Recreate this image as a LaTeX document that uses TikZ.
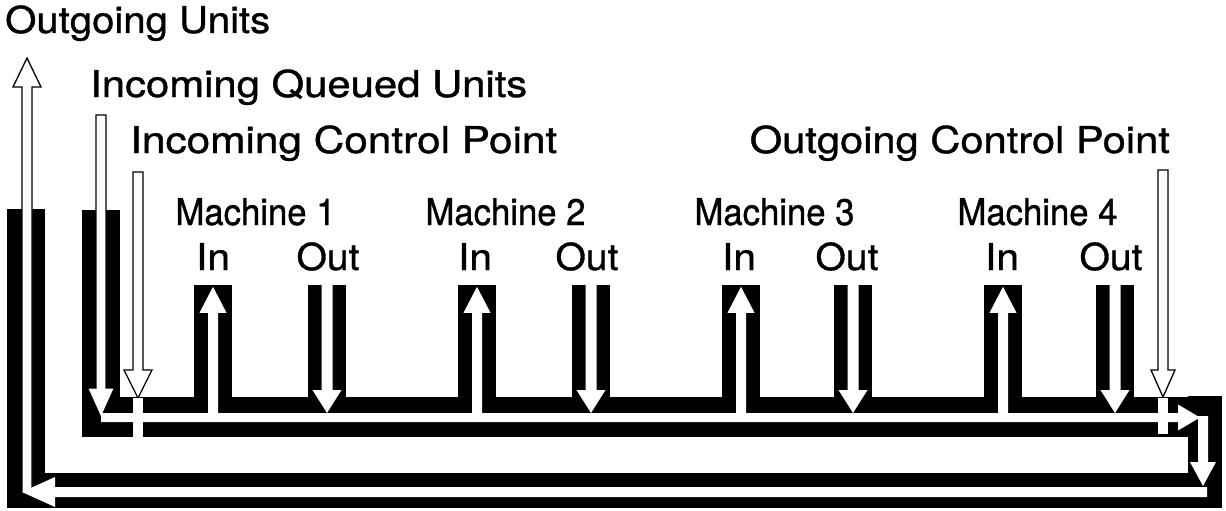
\documentclass[tikz,border=0pt]{standalone}
\usepackage{fontspec}
\usepackage{graphicx}
\setmainfont[FakeBold=0.9]{TeX Gyre Heros}
\usetikzlibrary{calc}

% vertical arrow: #1 style, #2 tail, #3 tip, #4 half shaft, #5 half head, #6 head length
\newcommand\vArrow[6]{%
  \path[#1] let \p1=(#2), \p2=(#3), \n1={sign(\y2-\y1)} in
   ({\x2-#4},\y1) -- ({\x2-#4},{\y2-(\n1)*#6}) -- ({\x2-#5},{\y2-(\n1)*#6}) -- (\x2,\y2)
   -- ({\x2+#5},{\y2-(\n1)*#6}) -- ({\x2+#4},{\y2-(\n1)*#6}) -- ({\x2+#4},\y1) -- cycle;}
% horizontal arrow
\newcommand\hArrow[6]{%
  \path[#1] let \p1=(#2), \p2=(#3), \n1={sign(\x2-\x1)} in
   (\x1,{\y2-#4}) -- ({\x2-(\n1)*#6},{\y2-#4}) -- ({\x2-(\n1)*#6},{\y2-#5}) -- (\x2,\y2)
   -- ({\x2-(\n1)*#6},{\y2+#5}) -- ({\x2-(\n1)*#6},{\y2+#4}) -- (\x1,{\y2+#4}) -- cycle;}
% text set to a given width, natural height
\newcommand\wtext[2]{\resizebox{#1}{\height}{#2}}

\tikzset{
  band/.style={fill=black},
  chute/.style={fill=black, inner sep=0pt, minimum width=38pt, minimum height=113pt},
  flow/.style={fill=white},
  hollow/.style={fill=white, draw=black, line width=1.3pt, line join=miter},
  lbl/.style={font=\fontsize{37}{37}\selectfont, inner sep=0pt},
  strip/.style={fill=white}
}

\begin{document}
\begin{tikzpicture}[x=1pt, y=-1pt]
\useasboundingbox (0,0) rectangle (1226,511);

% ---------- labels ----------
\node[lbl, anchor=base west] (outU) at (5,33) {\wtext{265pt}{Outgoing Units}};
\node[lbl, anchor=base west] (inQ) at (90,97) {\wtext{437pt}{Incoming Queued Units}};
\node[lbl, anchor=base west] (inCP) at (130,153) {\wtext{427pt}{Incoming Control Point}};
\node[lbl, anchor=base east] (outCP) at (1170,153) {\wtext{420pt}{Outgoing Control Point}};
\foreach \n/\mx/\ix/\ox in {1/255.5/213/328, 2/505.5/475/587, 3/774.5/739/847, 4/1037.5/1002/1111}{
  \node[lbl, anchor=base] (m\n) at (\mx,225) {\wtext{160pt}{Machine \n}};
  \node[lbl, anchor=base] (mi\n) at (\ix,270) {\wtext{34pt}{In}};
  \node[lbl, anchor=base] (mo\n) at (\ox,270) {\wtext{63pt}{Out}};
}

% ---------- conveyor bands ----------
\fill[band] (7,209) rectangle (45,508);      % outer return, left leg
\fill[band] (7,473) rectangle (1222,508);    % outer return, bottom
\fill[band] (1188,396) rectangle (1222,508); % right turn
\fill[band] (82,397) rectangle (1222,437);   % main line
\fill[band] (82,210) rectangle (120,437);    % queue leg

% machine chutes
\foreach \k/\c in {1/213, 2/477, 3/741, 4/1003}{
  \node[chute] (inch\k) at (\c,341.5) {};
}
\foreach \k/\c in {1/327, 2/591, 3/853, 4/1115}{
  \node[chute] (outch\k) at (\c,341.5) {};
}

% ---------- key points ----------
\coordinate (mainL) at (101,417.5);
\coordinate (mainR) at (1200,417.5);
\coordinate (turnTop) at (1203,416);
\coordinate (turnTip) at (1203,486);
\coordinate (botR) at (1207,493);
\coordinate (botL) at (22,492);
\coordinate (upTail) at (27,493);
\coordinate (upTip) at (27,58);
\coordinate (qTail) at (101,115);
\coordinate (qTip) at (101,418);
\coordinate (icTail) at (138,172);
\coordinate (icTip) at (138,398);
\coordinate (ocTail) at (1163,170);
\coordinate (ocTip) at (1163,397);

% ---------- flows ----------
% outgoing units (hollow, up the left leg)
\vArrow{hollow}{upTail}{upTip}{5pt}{14pt}{29pt}
% return line along the bottom
\hArrow{flow}{botR}{botL}{5pt}{15pt}{33pt}
% turn down on the right
\vArrow{flow}{turnTop}{turnTip}{5pt}{13pt}{24pt}
% incoming queued units
\vArrow{hollow}{qTail}{qTip}{5pt}{13.5pt}{30pt}
% main line
\hArrow{flow}{mainL}{mainR}{4.5pt}{13pt}{22pt}

% machine in / out
\foreach \k in {1,2,3,4}{
  \vArrow{flow}{$(inch\k.center)!(mainL)!(inch\k.south)$}{$(inch\k.north)+(0,2)$}{5pt}{13.5pt}{26pt}
  \vArrow{flow}{outch\k.north}{$(outch\k.center)!(mainL)!(outch\k.south)+(0,-4.5)$}{5.5pt}{14.5pt}{23pt}
}

% control points
\vArrow{hollow}{icTail}{icTip}{5pt}{14pt}{28pt}
\fill[strip] (133,398) rectangle (143,437);
\vArrow{hollow}{ocTail}{ocTip}{5pt}{12pt}{27pt}
\fill[strip] (1158,398) rectangle (1168,434);
\end{tikzpicture}
\end{document}
